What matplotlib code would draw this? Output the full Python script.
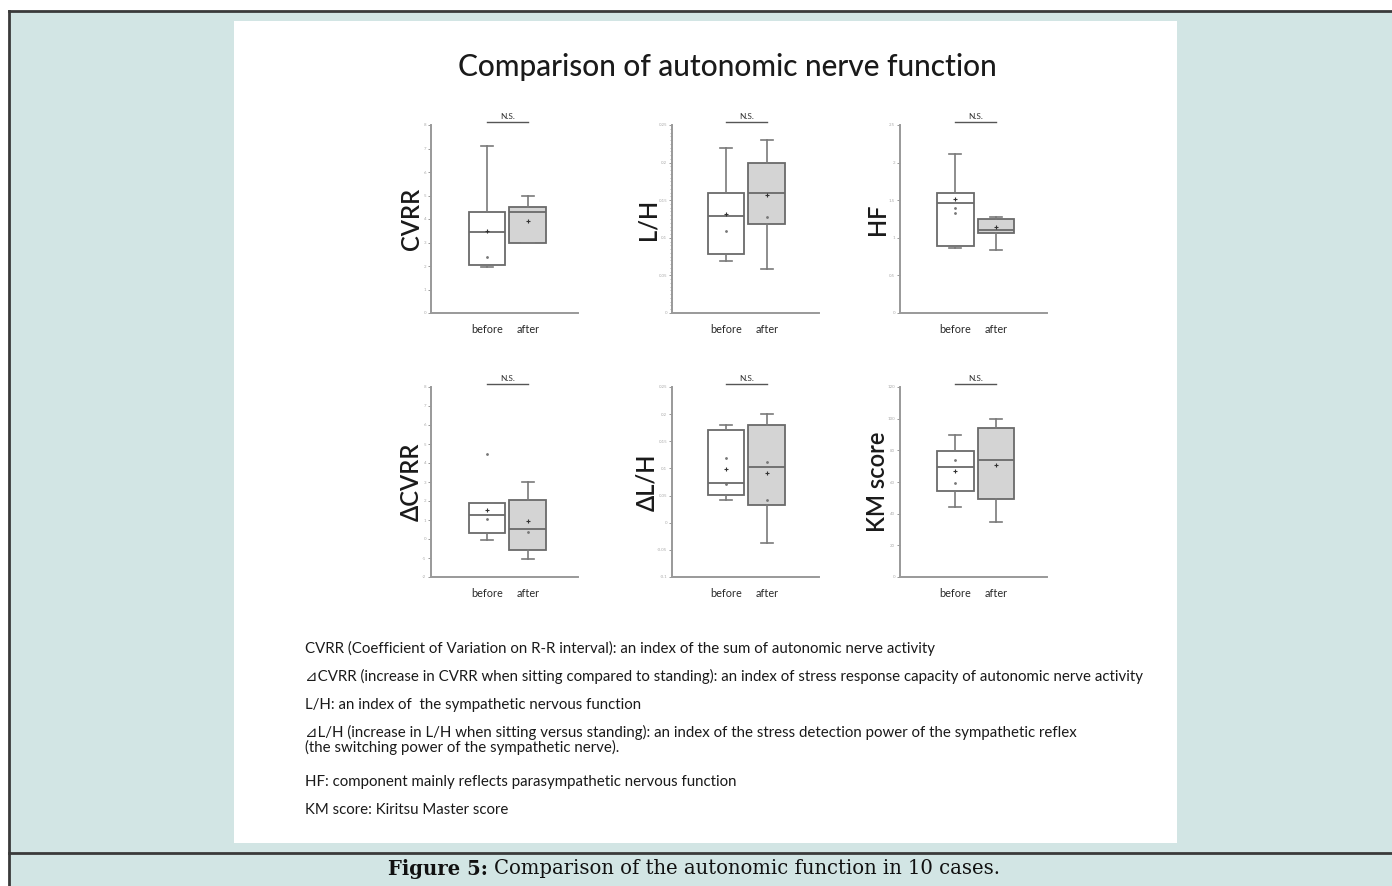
import numpy as np
import matplotlib
matplotlib.use("Agg")
import matplotlib.pyplot as plt
from matplotlib.patches import Rectangle
from matplotlib.lines import Line2D
import matplotlib.transforms as mtransforms

plt.rcParams['font.family'] = ['Lato', 'DejaVu Sans']

# ---- data ----
panel_names = ['CVRR', 'L/H', 'HF', 'ΔCVRR', 'ΔL/H', 'KM score']
group_labels = ['before', 'after']

bef_lo = [1.95, 0.069, 0.86, -0.04, 0.042, 44.2]
bef_q1 = [2.05, 0.078, 0.885, 0.32, 0.0515, 54.1]
bef_med = [3.43, 0.129, 1.46, 1.28, 0.0726, 69.5]
bef_q3 = [4.28, 0.159, 1.60, 1.89, 0.170, 79.4]
bef_hi = [7.1, 0.220, 2.12, 1.89, 0.180, 89.5]
bef_mean = [3.47, 0.131, 1.52, 1.51, 0.0987, 66.7]
bef_dots = [[2.4], [0.109], [1.39, 1.33], [1.04, 4.49], [0.12, 0.071], [74, 59.4]]

aft_lo = [2.97, 0.058, 0.84, -1.07, -0.0375, 34.7]
aft_q1 = [2.97, 0.119, 1.07, -0.6, 0.032, 49.5]
aft_med = [4.28, 0.159, 1.11, 0.54, 0.102, 74.1]
aft_q3 = [4.53, 0.200, 1.25, 2.07, 0.180, 94.3]
aft_hi = [5.0, 0.230, 1.28, 3.0, 0.200, 99.6]
aft_mean = [3.9, 0.157, 1.15, 0.93, 0.091, 70.9]
aft_dots = [[], [0.128], [], [0.37], [0.111, 0.042], []]

y_min = [0, 0, 0, -2, -0.1, 0]
y_max = [8, 0.25, 2.5, 8, 0.25, 120]
y_step = [1, 0.05, 0.5, 1, 0.05, 20]

sig_text = ['N.S.'] * 6

notes = [
    "CVRR (Coefficient of Variation on R-R interval): an index of the sum of autonomic nerve activity",
    "⊿CVRR (increase in CVRR when sitting compared to standing): an index of stress response capacity of autonomic nerve activity",
    "L/H: an index of  the sympathetic nervous function",
    "⊿L/H (increase in L/H when sitting versus standing): an index of the stress detection power of the sympathetic reflex\n(the switching power of the sympathetic nerve).",
    "HF: component mainly reflects parasympathetic nervous function",
    "KM score: Kiritsu Master score",
]
note_y = [648, 676, 705, 740, 782, 810]

# ---- layout in pixels ----
W, H = 1392, 886
TEAL = '#d2e5e4'


def fx(px):
    return px / W


def fy(py):
    return 1 - py / H


fig = plt.figure(figsize=(W / 100, H / 100), dpi=100)
fig.patch.set_facecolor('white')

# page background, white panel and frame lines
fig.patches.append(Rectangle((fx(9), 0), 1 - fx(9), fy(11), transform=fig.transFigure,
                             facecolor=TEAL, edgecolor='none', zorder=-3))
fig.patches.append(Rectangle((fx(234), fy(843)), fx(1177) - fx(234), fy(21) - fy(843),
                             transform=fig.transFigure, facecolor='white',
                             edgecolor='none', zorder=-2))
for (x0, y0, x1, y1) in [(9, 11, W, 11), (9, 11, 9, H), (9, 853, W, 853)]:
    fig.lines.append(Line2D([fx(x0), fx(x1)], [fy(y0), fy(y1)], transform=fig.transFigure,
                            color='#3a3a3a', lw=2.0))

col_left = [431, 672, 900]
col_xlim = [(-0.37, 3.23), (-0.32, 3.28), (-0.35, 3.25)]
row_top = [125, 387]
row_bot = [313, 577]
label_off = [-8, -13, -11, -8, -14, -11]
AX_W = 147

for i, name in enumerate(panel_names):
    r, c = divmod(i, 3)
    ax = fig.add_axes([fx(col_left[c]), fy(row_bot[r]), AX_W / W,
                       (row_bot[r] - row_top[r]) / H])
    ax.set_facecolor('none')

    stats = [
        dict(whislo=bef_lo[i], q1=bef_q1[i], med=bef_med[i], q3=bef_q3[i],
             whishi=bef_hi[i], mean=bef_mean[i], fliers=bef_dots[i]),
        dict(whislo=aft_lo[i], q1=aft_q1[i], med=aft_med[i], q3=aft_q3[i],
             whishi=aft_hi[i], mean=aft_mean[i], fliers=aft_dots[i]),
    ]
    bp = ax.bxp(stats, positions=[1, 2], widths=0.9, patch_artist=True,
                showmeans=True, showfliers=True,
                boxprops=dict(edgecolor='#6a6a6a', linewidth=1.3),
                medianprops=dict(color='#6a6a6a', linewidth=1.3),
                whiskerprops=dict(color='#7a7a7a', linewidth=1.2),
                capprops=dict(color='#7a7a7a', linewidth=1.2),
                capwidths=0.3,
                meanprops=dict(marker='+', markersize=3, markeredgecolor='#333333',
                               markeredgewidth=0.8),
                flierprops=dict(marker='.', markersize=2, markerfacecolor='#777777',
                                markeredgecolor='#777777'))
    bp['boxes'][0].set_facecolor('white')
    bp['boxes'][1].set_facecolor('#d4d4d4')

    ax.set_xlim(*col_xlim[c])
    ax.set_ylim(y_min[i], y_max[i])
    ax.set_yticks(np.arange(y_min[i], y_max[i] + y_step[i] / 2, y_step[i]))
    ax.yaxis.set_major_formatter(matplotlib.ticker.FormatStrFormatter('%g'))
    if name in ('L/H',):
        ax.yaxis.set_minor_locator(matplotlib.ticker.MultipleLocator(0.005))
        ax.tick_params(axis='y', which='minor', length=1.5, color='#aaaaaa', width=0.6)
    ax.tick_params(axis='y', length=2.5, width=0.7, color='#999999', labelsize=3.2,
                   labelcolor='#aaaaaa', pad=1)
    ax.set_xticks([1, 2])
    ax.set_xticklabels(group_labels, fontsize=7.8, color='#2a2a2a')
    ax.tick_params(axis='x', length=0, pad=8)
    for s in ('top', 'right'):
        ax.spines[s].set_visible(False)
    for s in ('left', 'bottom'):
        ax.spines[s].set_color('#999999')
        ax.spines[s].set_linewidth(1.4)

    ax.set_ylabel(name, fontsize=17, color='#1a1a1a', fontweight='semibold')
    ax.yaxis.set_label_coords(label_off[i] / AX_W, 0.5)

    # N.S. bracket
    tr = mtransforms.blended_transform_factory(ax.transData, ax.transAxes)
    ax.plot([1, 2], [1.017, 1.017], color='#555555', lw=1.0, transform=tr, clip_on=False)
    ax.text(1.5, 1.025, sig_text[i], transform=tr, ha='center', va='bottom',
            fontsize=6, color='#333333')

fig.text(fx(727), fy(67), 'Comparison of autonomic nerve function', ha='center',
         va='center', fontsize=21.5, color='#1a1a1a', fontweight='medium')

for txt, yy in zip(notes, note_y):
    fig.text(fx(305), fy(yy), txt, ha='left', va='center', fontsize=10.8,
             color='#1a1a1a', linespacing=0.95)

fig.text(fx(488), fy(869), 'Figure 5:', ha='right', va='center', fontsize=14.1,
         fontweight='bold', family='DejaVu Serif', color='#111111')
fig.text(fx(494), fy(869), 'Comparison of the autonomic function in 10 cases.',
         ha='left', va='center', fontsize=14.1, family='DejaVu Serif', color='#111111')

fig.savefig('out.png', dpi=100, facecolor=fig.get_facecolor())
